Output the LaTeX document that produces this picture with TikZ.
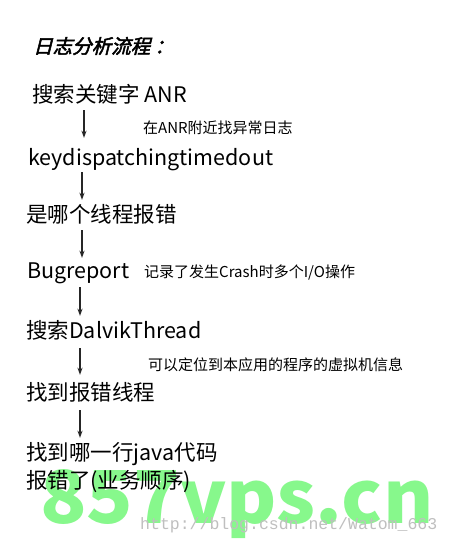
\documentclass[tikz,border=0pt]{standalone}
\usepackage{fontspec}
\setmainfont{Noto Sans CJK SC}
\newfontfamily\titlefont[FakeSlant=0.25,FakeBold=2.5]{Noto Sans CJK SC}
\newfontfamily\wmfont{Liberation Mono}
\usetikzlibrary{arrows.meta}
\definecolor{wmgreen}{RGB}{135,248,140}
\begin{document}
\begin{tikzpicture}[x=1pt,y=1pt,
  big/.style={anchor=west,inner sep=0pt,font=\fontsize{21.5}{21.5}\selectfont,text height=15pt,text depth=5pt},
  small/.style={anchor=west,inner sep=0pt,font=\fontsize{15}{15}\selectfont},
  arr/.style={-{Stealth[length=7pt,width=5pt]},line width=1.2pt,black!85}]
\useasboundingbox (0,0) rectangle (450,-544);
\fill[white] (0,0) rectangle (450,-544);
% watermarks
\node[anchor=base west,inner sep=0pt,xscale=1.05,text=wmgreen,font=\fontsize{73}{73}\selectfont\bfseries] (wm1) at (40,-523) {857vps.cn};
\node[anchor=west,inner sep=0pt,text=black!25,font=\wmfont\fontsize{16.5}{16.5}\selectfont] (wm2) at (140,-525) {http://blog.csdn.net/Watom\_663};
% content
\node[anchor=west,inner sep=0pt,font=\titlefont\fontsize{19.5}{19.5}\selectfont] (n0) at (33,-46) {日志分析流程 ：};
\node[big] (n1) at (32,-97) {搜索关键字 ANR};
\node[small] (c1) at (143,-128) {在ANR附近找异常日志};
\node[big] (n2) at (28,-160) {keydispatchingtimedout};
\node[big] (n3) at (26,-217) {是哪个线程报错};
\node[big] (n4) at (27,-273) {Bugreport};
\node[small] (c4) at (144,-273) {记录了发生Crash时多个I/O操作};
\node[big] (n5) at (26,-333) {搜索DalvikThread};
\node[small] (c5) at (148,-365) {可以定位到本应用的程序的虚拟机信息};
\node[big] (n6) at (26,-395) {找到报错线程};
\node[big] (n7) at (26,-455) {找到哪一行java代码};
\node[big] (n8) at (26,-483) {报错了(业务顺序)};
% arrows
\draw[arr,shorten <=3pt,shorten >=12pt] (n1.south -| 84,0) -- (n2.north -| 84,0);
\draw[arr,shorten <=2pt,shorten >=7pt] (n2.south -| 82,0) -- (n3.north -| 82,0);
\draw[arr,shorten <=3pt,shorten >=5pt] (n3.south -| 82,0) -- (n4.north -| 82,0);
\draw[arr,shorten <=4pt,shorten >=7pt] (n4.south -| 80,0) -- (n5.north -| 80,0);
\draw[arr,shorten <=5pt,shorten >=10pt] (n5.south -| 80,0) -- (n6.north -| 80,0);
\draw[arr,shorten <=5pt,shorten >=7pt] (n6.south -| 80,0) -- (n7.north -| 80,0);
\end{tikzpicture}
\end{document}
